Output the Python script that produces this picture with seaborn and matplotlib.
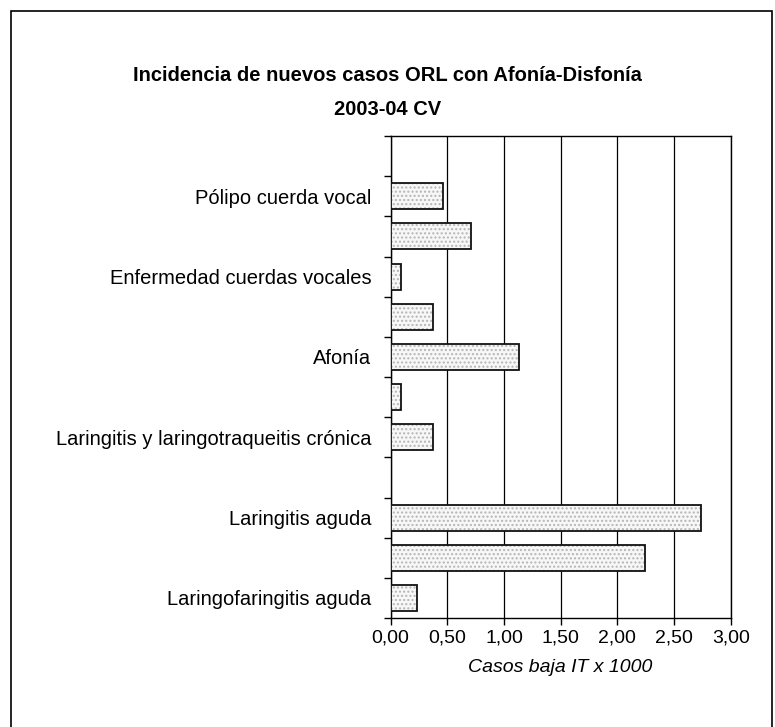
import numpy as np
import pandas as pd
import matplotlib
matplotlib.use('Agg')
import matplotlib.pyplot as plt
from matplotlib.patches import Rectangle
from matplotlib.ticker import FixedLocator
import seaborn as sns

# categorias de arriba a abajo (las vacias no llevan rotulo en el original)
etiquetas = ["", "Pólipo cuerda vocal", "", "Enfermedad cuerdas vocales", "",
             "Afonía", "", "Laringitis y laringotraqueitis crónica", "",
             "Laringitis aguda", "", "Laringofaringitis aguda"]
valores = [np.nan, 0.46, 0.71, 0.09, 0.37, 1.13, 0.09, 0.37, np.nan, 2.74, 2.24, 0.23]
x_ticks = [0.0, 0.5, 1.0, 1.5, 2.0, 2.5, 3.0]
x_labels = ["0,00", "0,50", "1,00", "1,50", "2,00", "2,50", "3,00"]

sns.set_theme(style="white")
plt.rcParams['font.family'] = ['Liberation Sans', 'DejaVu Sans']

fig = plt.figure(figsize=(7.75, 7.27), dpi=100)
ax = fig.add_axes([0.5041, 0.1499, 0.4387, 0.6630])

df = pd.DataFrame({'pos': range(len(valores)), 'valor': valores}).dropna()
sns.barplot(data=df, x='valor', y='pos', orient='h', order=list(range(len(valores))),
            width=0.65, color='#f7f7f7', saturation=1, edgecolor='#b5b5b5',
            linewidth=0, ax=ax, zorder=3)

# punteado + borde negro encima
for p in list(ax.patches):
    p.set_hatch('....')
    p.set_linewidth(0)
    ax.add_patch(Rectangle(p.get_xy(), p.get_width(), p.get_height(), facecolor='none',
                           edgecolor='#111111', linewidth=1.3, zorder=4))

ax.set_xlim(0, 3)
ax.set_ylim(len(valores) - 0.5, -0.5)
ax.set_xticks(x_ticks, x_labels)
ax.set_yticks(range(len(valores)), etiquetas)
ax.yaxis.set_minor_locator(FixedLocator(np.arange(-0.5, len(valores), 1)))
ax.tick_params(axis='y', which='major', length=0, pad=14, labelsize=14.5, colors='black')
ax.tick_params(axis='y', which='minor', left=True, length=5, width=1, color='black')
ax.tick_params(axis='x', bottom=True, length=5, width=1, color='black', pad=3,
               labelsize=14, labelcolor='black')

ax.grid(axis='x', color='black', linewidth=0.9)
ax.set_axisbelow(True)
for s in ax.spines.values():
    s.set_color('black')
    s.set_linewidth(1)

ax.set_ylabel('')
ax.set_xlabel('Casos baja IT x 1000', fontstyle='italic', fontsize=14, color='black', labelpad=9)

fig.text(0.5, 0.8955, 'Incidencia de nuevos casos ORL con Afonía-Disfonía', ha='center', va='center',
         fontsize=14.5, fontweight='bold', color='black')
fig.text(0.5, 0.8487, '2003-04 CV', ha='center', va='center',
         fontsize=14.5, fontweight='bold', color='black')

fig.patches.append(Rectangle((10.5 / 775, -0.02), (772 - 10.5) / 775, 1.02 - 10.5 / 727,
                             transform=fig.transFigure, facecolor='none', edgecolor='black',
                             linewidth=1.2, clip_on=False))

plt.savefig('out.png', dpi=100)
